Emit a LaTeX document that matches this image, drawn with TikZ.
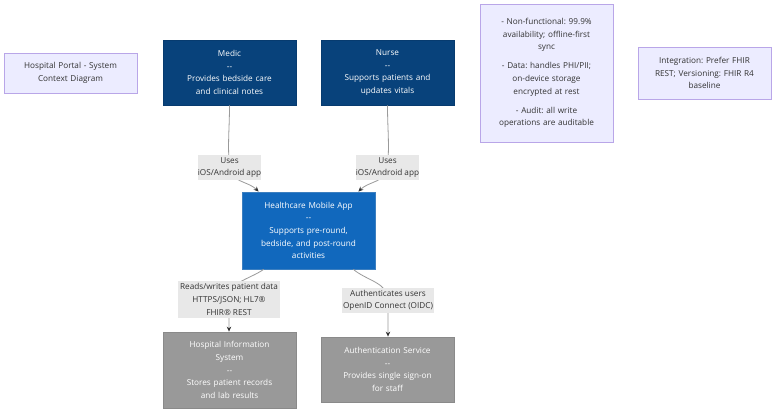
\documentclass[tikz,border=0pt]{standalone}
\usepackage{fontspec}
\setmainfont{Open Sans}
\usetikzlibrary{arrows.meta,calc}
\definecolor{personfill}{HTML}{08427B}
\definecolor{personline}{HTML}{073B6F}
\definecolor{appfill}{HTML}{1168BD}
\definecolor{appline}{HTML}{3C7FC0}
\definecolor{extfill}{HTML}{999999}
\definecolor{extline}{HTML}{8A8A8A}
\definecolor{notefill}{HTML}{ECECFF}
\definecolor{noteline}{HTML}{B9A6E8}
\definecolor{labelfill}{HTML}{E8E8E8}
\definecolor{txt}{HTML}{333333}
\definecolor{edge}{HTML}{9A9A9A}
\begin{document}
\frenchspacing
\begin{tikzpicture}[x=1pt,y=-1pt,
  font=\fontsize{8.2}{12.6}\selectfont\frenchspacing,
  boxbase/.style={rectangle, align=center, inner sep=0pt, text=white, line width=0.8pt},
  personbox/.style={boxbase, fill=personfill, draw=personline},
  appbox/.style={boxbase, fill=appfill, draw=appline},
  extbox/.style={boxbase, fill=extfill, draw=extline},
  notebox/.style={rectangle, align=center, inner sep=0pt, fill=notefill, draw=noteline, line width=0.8pt, text=txt},
  elabel/.style={rectangle, align=center, inner sep=0pt, fill=labelfill, text=txt},
  conn/.style={draw=edge, line width=0.8pt},
  tip/.style={-{Stealth[length=5pt,width=4.5pt,fill=txt,color=txt]}}
]
\useasboundingbox (0,0) rectangle (784,417);
\fill[white] (0,0) rectangle (784,417);

\coordinate (l1) at (229.5,167.5);
\coordinate (l2) at (387.5,167.5);
\coordinate (l3) at (229,299.5);
\coordinate (l4) at (388,300.5);

\node[notebox, minimum width=133pt, minimum height=40pt, text width=124pt] (title) at (70.5,73) {Hospital Portal - System\\Context Diagram};

\node[personbox, minimum width=133pt, minimum height=65pt, text width=127pt] (medic) at (229.5,72.5) {Medic\\{-}{-}\\Provides bedside care\\and clinical notes};
\node[personbox, minimum width=133pt, minimum height=65pt, text width=127pt] (nurse) at (387.5,72.5) {Nurse\\{-}{-}\\Supports patients and\\updates vitals};

\node[notebox, minimum width=133pt, minimum height=138pt, text width=124pt] (nfr) at (546.5,73) {- Non-functional: 99.9\%\\availability; offline-first\\sync\\[6.5pt]- Data: handles PHI/PII;\\on-device storage\\encrypted at rest\\[6.5pt]- Audit: all write\\operations are auditable};
\node[notebox, minimum width=133pt, minimum height=52pt, text width=124pt] (integ) at (704.5,73) {Integration: Prefer FHIR\\REST; Versioning: FHIR R4\\baseline};

\node[appbox, minimum width=133pt, minimum height=77pt, text width=127pt] (app) at (308.5,230.5) {Healthcare Mobile App\\{-}{-}\\Supports pre-round,\\bedside, and post-round\\activities};

\node[extbox, minimum width=133pt, minimum height=76pt, text width=127pt] (his) at (229.5,370) {Hospital Information\\System\\{-}{-}\\Stores patient records\\and lab results};
\node[extbox, minimum width=133pt, minimum height=65pt, text width=127pt] (auth) at (387.5,369.5) {Authentication Service\\{-}{-}\\Provides single sign-on\\for staff};

\draw[conn, tip] (medic.south -| l1) to[out=-90,in=95] (l1) to[out=-85,in=135] ([xshift=17pt]app.north west);
\draw[conn, tip] (nurse.south -| l2) to[out=-90,in=85] (l2) to[out=-95,in=45] ([xshift=-17pt]app.north east);
\draw[conn, tip] ([xshift=22pt]app.south west) to[out=-145,in=90] (l3) -- (his.north -| l3);
\draw[conn, tip] ([xshift=-22pt]app.south east) to[out=-40,in=90] (l4) to[out=-90,in=90] (auth.north -| l4);

\node[elabel, minimum width=63pt, minimum height=25pt] (lab1) at (l1) {Uses\\iOS/Android app};
\node[elabel, minimum width=63pt, minimum height=25pt] (lab2) at (l2) {Uses\\iOS/Android app};
\node[elabel, minimum width=102pt, minimum height=37pt] (lab3) at (l3) {Reads/writes patient data\\HTTPS/JSON; HL7®\\FHIR® REST};
\node[elabel, minimum width=92pt, minimum height=25pt] (lab4) at (l4) {Authenticates users\\OpenID Connect (OIDC)};
\end{tikzpicture}
\end{document}
